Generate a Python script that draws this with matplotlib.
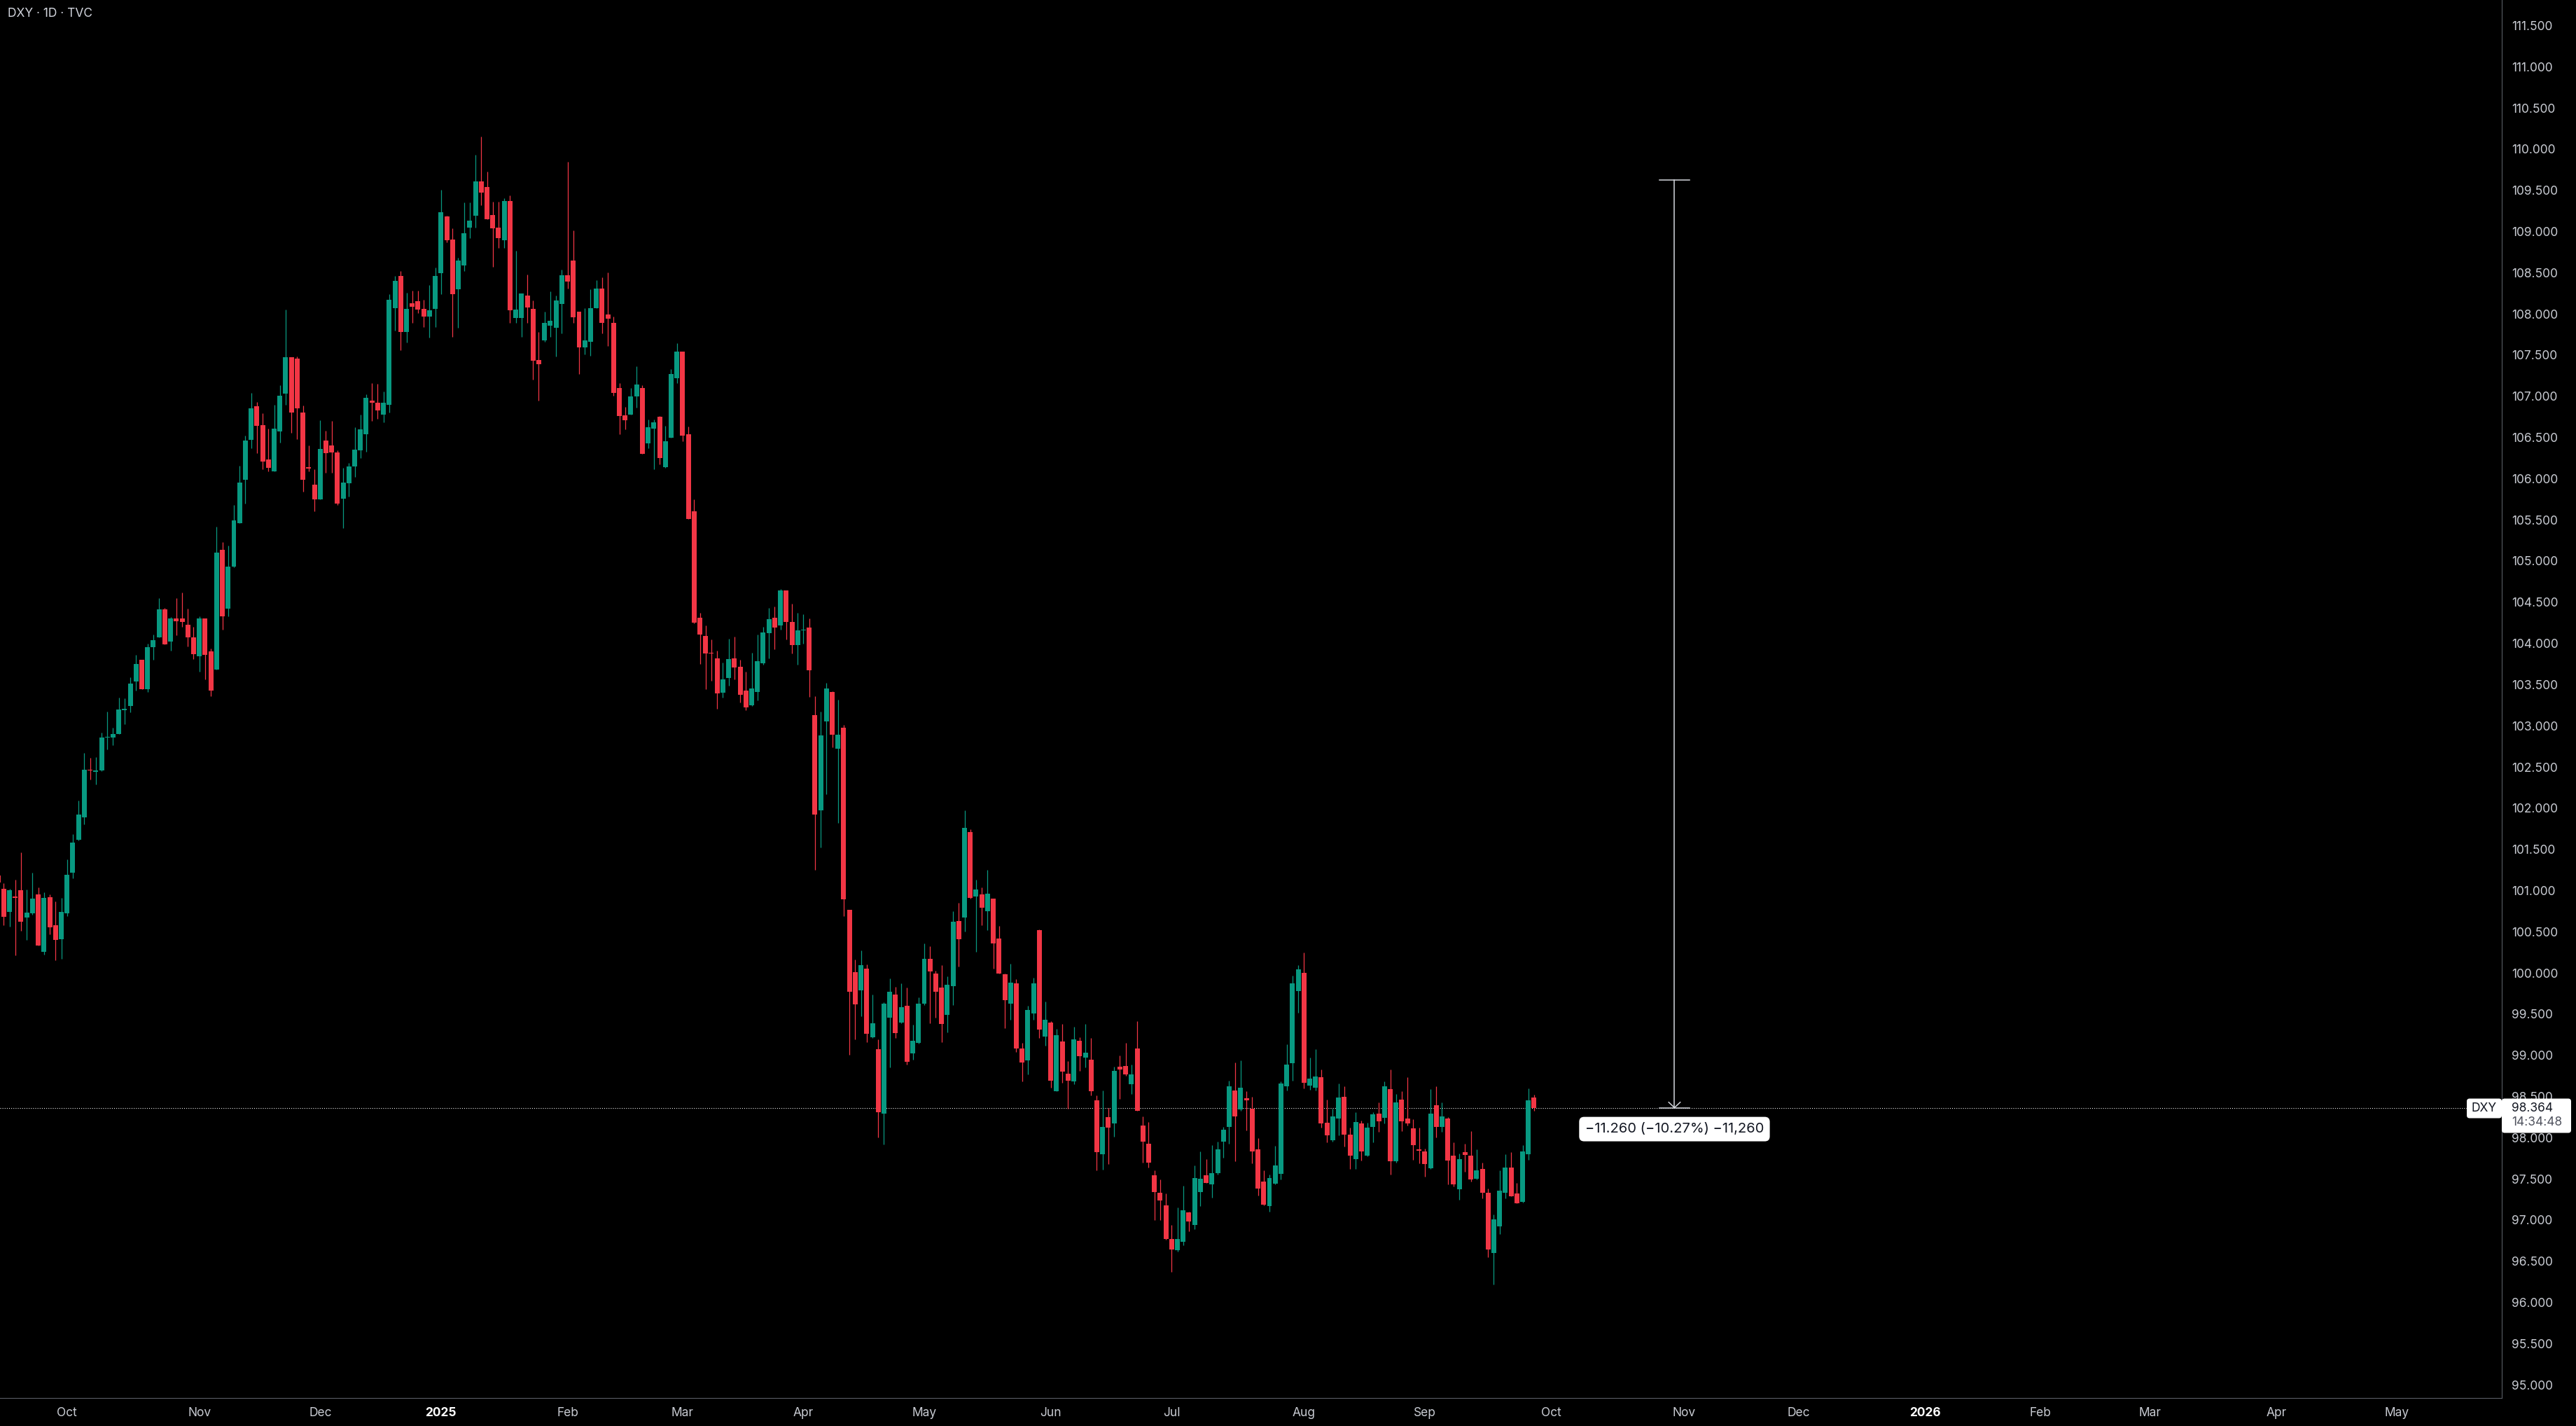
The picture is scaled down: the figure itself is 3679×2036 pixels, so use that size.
import numpy as np
import pandas as pd
import matplotlib
matplotlib.use("Agg")
import matplotlib.pyplot as plt
from matplotlib.patches import FancyBboxPatch

symbol = "DXY · 1D · TVC"
first_day = "2024-09-13"
holidays = ["2024-12-25", "2025-01-01", "2025-04-18", "2025-12-25",
            "2026-01-01", "2026-01-19", "2026-02-16", "2026-04-03"]

opens = [
    101.18, 101.02, 100.74, 100.93, 101.00, 100.67, 100.72, 100.95, 100.26, 100.92,
    100.58, 100.41, 100.72, 101.22, 101.62, 101.89, 102.47, 102.44, 102.46, 102.86,
    102.86, 102.90, 103.19, 103.24, 103.54, 103.80, 103.44, 103.95, 104.07, 104.41,
    104.02, 104.30, 104.30, 104.23, 104.07, 103.84, 104.30, 103.90, 103.68, 105.14,
    104.42, 104.93, 105.46, 105.99, 106.47, 106.88, 106.65, 106.23, 106.09, 106.57,
    107.03, 107.47, 107.46, 106.80, 106.14, 105.93, 105.75, 106.46, 106.40, 106.32,
    105.76, 105.94, 106.15, 106.34, 106.54, 106.95, 106.92, 106.78, 106.90, 108.07,
    108.46, 107.78, 108.13, 108.15, 108.06, 107.97, 108.06, 108.49, 109.18, 108.90,
    108.30, 108.59, 109.05, 109.19, 109.61, 109.54, 109.20, 109.05, 108.89, 109.37,
    107.95, 107.95, 108.22, 108.06, 107.44, 107.68, 107.86, 107.83, 108.12, 108.47,
    108.65, 108.03, 107.59, 107.66, 108.07, 108.31, 107.99, 107.89, 107.10, 106.77,
    106.78, 107.00, 107.10, 106.43, 106.61, 106.75, 106.14, 106.50, 107.22, 107.54,
    106.54, 105.60, 104.31, 104.09, 103.89, 103.82, 103.40, 103.58, 103.82, 103.72,
    103.43, 103.25, 103.41, 103.76, 104.12, 104.31, 104.22, 104.64, 104.26, 103.98,
    104.16, 104.19, 103.13, 101.97, 103.05, 103.41, 102.72, 102.98, 100.77, 100.01,
    99.79, 100.05, 99.22, 99.07, 98.29, 99.46, 99.74, 99.40, 99.60, 99.02,
    99.15, 99.63, 100.17, 99.99, 99.82, 99.49, 99.84, 100.63, 100.67, 101.71,
    100.93, 100.95, 100.75, 100.90, 100.42, 99.98, 99.63, 99.87, 99.08, 98.94,
    99.51, 100.52, 99.23, 99.40, 98.56, 99.17, 98.78, 98.68, 99.18, 98.97,
    98.95, 98.45, 97.80, 98.25, 98.17, 98.86, 98.87, 98.65, 99.08, 98.15,
    97.93, 97.54, 97.33, 97.18, 96.77, 96.63, 96.74, 97.09, 96.94, 97.34,
    97.54, 97.43, 97.57, 97.95, 98.13, 98.57, 98.34, 98.48, 98.35, 97.86,
    97.47, 97.17, 97.44, 97.56, 98.62, 98.90, 99.78, 100.00, 98.63, 98.61,
    98.73, 98.18, 97.97, 98.23, 98.50, 98.04, 97.74, 98.17, 97.78, 98.13,
    98.29, 98.24, 98.59, 97.71, 98.46, 98.23, 98.11, 97.86, 97.83, 97.63,
    98.39, 98.13, 98.23, 97.78, 97.37, 97.82, 97.78, 97.50, 97.62, 97.33,
    96.60, 96.92, 97.33, 97.64, 97.32, 97.22, 97.80, 98.49,
]
highs = [
    101.25, 101.09, 101.02, 101.13, 101.46, 101.01, 101.22, 101.04, 100.98, 100.95,
    100.87, 100.91, 101.38, 101.68, 102.09, 102.67, 102.61, 102.62, 102.92, 103.17,
    102.98, 103.34, 103.33, 103.59, 103.86, 103.80, 104.00, 104.11, 104.55, 104.43,
    104.32, 104.55, 104.62, 104.42, 104.20, 104.33, 104.30, 103.94, 105.42, 105.23,
    105.19, 105.68, 106.16, 106.52, 107.04, 106.93, 106.79, 106.61, 106.90, 107.13,
    108.05, 107.47, 107.48, 106.89, 106.40, 106.11, 106.71, 106.58, 106.70, 106.34,
    106.13, 106.19, 106.62, 106.78, 107.02, 107.16, 107.15, 107.06, 108.24, 108.46,
    108.52, 108.26, 108.28, 108.28, 108.17, 108.35, 108.56, 109.51, 109.19, 109.04,
    108.68, 109.35, 109.35, 109.93, 110.15, 109.73, 109.36, 109.36, 109.40, 109.44,
    108.77, 108.25, 108.48, 108.16, 107.78, 108.03, 108.27, 108.22, 108.54, 109.85,
    109.01, 108.03, 108.07, 108.30, 108.41, 108.44, 108.50, 107.97, 107.16, 106.87,
    107.10, 107.36, 107.13, 106.72, 106.72, 106.76, 106.64, 107.33, 107.64, 107.54,
    106.63, 105.75, 104.37, 104.22, 104.05, 103.91, 103.77, 104.06, 104.08, 103.80,
    103.66, 103.89, 104.11, 104.20, 104.43, 104.45, 104.66, 104.64, 104.48, 104.37,
    104.35, 104.30, 103.36, 103.17, 103.52, 103.42, 103.32, 103.01, 100.77, 100.16,
    100.27, 100.10, 99.74, 99.19, 99.64, 99.93, 99.83, 99.87, 99.82, 99.37,
    99.70, 100.36, 100.32, 100.03, 100.09, 99.96, 100.75, 100.85, 101.97, 101.74,
    101.13, 101.04, 101.25, 100.90, 100.57, 99.99, 100.11, 99.92, 99.15, 99.60,
    99.94, 100.53, 99.65, 99.41, 99.32, 99.38, 98.93, 99.35, 99.22, 99.38,
    99.21, 98.51, 98.57, 98.36, 98.86, 99.00, 99.15, 98.89, 99.41, 98.26,
    98.19, 97.60, 97.49, 97.32, 96.94, 97.15, 97.42, 97.10, 97.66, 97.83,
    97.74, 97.91, 97.95, 98.13, 98.69, 98.91, 98.94, 98.56, 98.50, 97.99,
    97.60, 97.55, 97.90, 98.68, 99.13, 99.97, 100.09, 100.25, 98.97, 99.07,
    98.83, 98.46, 98.35, 98.66, 98.62, 98.12, 98.31, 98.21, 98.18, 98.31,
    98.43, 98.68, 98.83, 98.53, 98.56, 98.73, 98.22, 98.12, 97.87, 98.59,
    98.62, 98.43, 98.25, 97.94, 97.81, 97.93, 98.08, 97.86, 97.70, 97.38,
    97.07, 97.60, 97.80, 97.82, 97.45, 97.91, 98.60, 98.52,
]
lows = [
    101.02, 100.58, 100.56, 100.21, 100.51, 100.40, 100.71, 100.33, 100.22, 100.47,
    100.15, 100.17, 100.69, 101.15, 101.61, 101.80, 102.35, 102.29, 102.45, 102.71,
    102.76, 102.90, 103.02, 103.16, 103.43, 103.44, 103.41, 103.80, 104.07, 103.99,
    103.91, 104.10, 104.20, 103.96, 103.81, 103.66, 103.56, 103.36, 103.68, 104.17,
    104.33, 104.92, 105.46, 105.70, 106.37, 106.31, 106.11, 106.09, 106.09, 106.44,
    106.90, 106.56, 106.48, 105.84, 106.09, 105.60, 105.75, 106.07, 106.07, 105.68,
    105.40, 105.78, 106.02, 106.25, 106.33, 106.70, 106.73, 106.68, 106.80, 107.80,
    107.56, 107.65, 107.89, 108.01, 107.84, 107.71, 107.84, 108.24, 108.87, 107.72,
    107.83, 108.52, 108.92, 109.05, 109.32, 109.15, 108.57, 108.80, 108.80, 107.89,
    107.89, 107.72, 107.89, 107.20, 106.95, 107.66, 107.72, 107.48, 107.76, 108.31,
    107.89, 107.27, 107.51, 107.49, 108.07, 107.76, 107.61, 107.01, 106.54, 106.60,
    106.78, 106.86, 106.30, 106.37, 106.11, 106.17, 106.13, 106.50, 107.16, 106.45,
    105.51, 104.24, 103.75, 103.44, 103.55, 103.21, 103.34, 103.49, 103.56, 103.28,
    103.19, 103.24, 103.31, 103.74, 103.82, 103.93, 104.17, 104.05, 103.88, 103.74,
    104.00, 103.35, 101.25, 101.52, 102.17, 102.74, 101.82, 100.69, 99.01, 99.19,
    99.47, 99.16, 99.21, 98.00, 97.92, 98.85, 99.21, 99.39, 98.89, 98.95,
    99.14, 99.61, 99.39, 99.46, 99.16, 99.28, 99.61, 100.08, 100.50, 100.90,
    100.26, 100.58, 100.52, 100.05, 99.99, 99.33, 99.43, 99.04, 98.68, 98.77,
    99.43, 99.21, 99.12, 98.61, 98.56, 98.67, 98.35, 98.65, 98.81, 98.85,
    98.51, 97.60, 97.61, 97.68, 98.01, 98.47, 98.75, 98.53, 98.33, 97.70,
    97.64, 97.00, 97.00, 96.76, 96.37, 96.62, 96.69, 96.86, 96.89, 97.17,
    97.45, 97.27, 97.55, 97.76, 97.93, 97.71, 98.33, 98.09, 97.69, 97.30,
    97.18, 97.10, 97.43, 97.49, 98.57, 98.69, 99.52, 98.60, 98.58, 98.57,
    98.12, 97.94, 97.95, 98.03, 97.89, 97.62, 97.62, 97.72, 97.77, 97.94,
    98.07, 98.17, 97.55, 97.70, 98.08, 98.15, 97.73, 97.69, 97.53, 97.62,
    98.00, 98.07, 97.43, 97.41, 97.25, 97.59, 97.47, 97.49, 97.26, 96.55,
    96.22, 96.83, 97.26, 97.29, 97.20, 97.21, 97.73, 98.33,
]
closes = [
    101.10, 100.68, 101.00, 100.91, 100.62, 100.73, 100.90, 100.33, 100.91, 100.55,
    100.40, 100.74, 101.19, 101.58, 101.92, 102.47, 102.46, 102.46, 102.86, 102.87,
    102.90, 103.20, 103.21, 103.51, 103.75, 103.44, 103.95, 104.04, 104.41, 103.99,
    104.30, 104.27, 104.26, 104.07, 103.87, 104.30, 103.86, 103.43, 105.10, 104.33,
    104.93, 105.49, 105.95, 106.46, 106.85, 106.64, 106.21, 106.13, 106.61, 107.01,
    107.47, 106.80, 106.85, 105.99, 106.12, 105.75, 106.36, 106.31, 106.32, 105.70,
    105.95, 106.15, 106.35, 106.60, 106.98, 106.92, 106.83, 106.92, 108.17, 108.40,
    107.78, 108.06, 108.09, 108.05, 107.97, 108.04, 108.46, 109.23, 108.89, 108.24,
    108.65, 108.98, 109.13, 109.61, 109.47, 109.15, 109.04, 108.92, 109.37, 108.04,
    108.05, 108.25, 108.08, 107.43, 107.39, 107.89, 107.92, 108.16, 108.47, 108.39,
    107.96, 107.59, 107.68, 108.07, 108.31, 107.89, 107.94, 107.04, 106.76, 106.71,
    107.00, 107.14, 106.30, 106.62, 106.68, 106.25, 106.45, 107.27, 107.54, 106.52,
    105.51, 104.25, 104.11, 103.88, 103.88, 103.39, 103.56, 103.81, 103.71, 103.38,
    103.22, 103.45, 103.78, 104.13, 104.29, 104.19, 104.64, 104.26, 103.98, 104.16,
    104.17, 103.67, 101.92, 102.88, 103.45, 102.89, 102.89, 100.89, 99.77, 99.62,
    100.09, 99.26, 99.39, 98.31, 99.63, 99.77, 99.27, 99.58, 98.92, 99.18,
    99.63, 100.17, 100.02, 99.77, 99.38, 99.86, 100.62, 100.41, 101.76, 100.91,
    101.01, 100.79, 100.96, 100.36, 99.99, 99.67, 99.88, 99.08, 98.91, 99.55,
    99.87, 99.31, 99.43, 98.69, 99.24, 98.80, 98.69, 99.19, 98.99, 99.03,
    98.56, 97.82, 98.13, 98.12, 98.81, 98.83, 98.77, 98.77, 98.33, 97.95,
    97.70, 97.34, 97.24, 96.77, 96.64, 96.77, 97.12, 96.98, 97.51, 97.50,
    97.45, 97.57, 97.86, 98.10, 98.62, 98.26, 98.61, 98.45, 97.83, 97.38,
    97.19, 97.51, 97.66, 98.66, 98.89, 99.87, 100.04, 98.67, 98.72, 98.74,
    98.17, 98.03, 98.26, 98.49, 98.04, 97.78, 98.19, 97.83, 98.12, 98.28,
    98.20, 98.62, 97.71, 98.43, 98.20, 98.17, 97.91, 97.84, 97.68, 98.29,
    98.13, 98.26, 97.72, 97.43, 97.74, 97.79, 97.49, 97.60, 97.33, 96.64,
    97.01, 97.36, 97.64, 97.29, 97.20, 97.83, 98.45, 98.364,
]

last_price = 98.364
countdown = "14:34:48"
measure_from = 109.624
measure_to = 98.364

UP = "#089981"
DOWN = "#F23645"
TEXT = "#c8cbd2"

plt.rcParams["font.family"] = ["Inter", "DejaVu Sans"]

o = np.array(opens)
h = np.array(highs)
l = np.array(lows)
c = np.array(closes)
x = np.arange(len(o))

# trading calendar (bar index <-> date), continues into the future for the time scale
cal = pd.bdate_range(first_day, "2026-06-30")
cal = cal[~cal.isin(pd.to_datetime(holidays))]
idx = pd.Series(np.arange(len(cal)), index=cal)
firsts = idx.groupby([idx.index.year, idx.index.month]).first()

W, H = 3680, 2036
fig = plt.figure(figsize=(W / 100, H / 100), dpi=100, facecolor="black")
ax = fig.add_axes([0, 40 / H, 3573 / W, 1996 / H])
ax.set_facecolor("black")

xlim = (0.35, 435.2)
ax.set_xlim(*xlim)
ax.set_ylim(94.84, 111.81)

colors = np.where(c >= o, UP, DOWN)
ax.vlines(x, l, h, colors=colors, linewidth=0.9, zorder=2)
ax.bar(x, np.maximum(np.abs(c - o), 0.009), bottom=np.minimum(o, c), width=0.85,
       color=colors, linewidth=0, zorder=3)

# last price line
ax.axhline(last_price, color="white", lw=0.75, linestyle=(0, (1, 2)), zorder=1)

# measure drawing
mx = 291.4
lc = "#d6d8de"
ax.plot([mx, mx], [measure_from, measure_to], color=lc, lw=1.1, zorder=4)
ax.plot([mx - 2.6, mx + 2.6], [measure_from, measure_from], color=lc, lw=1.1, zorder=4)
ax.plot([mx - 2.6, mx + 2.6], [measure_to, measure_to], color=lc, lw=1.1, zorder=4)
ax.plot([mx - 1.0, mx, mx + 1.0], [measure_to + 0.066, measure_to, measure_to + 0.066],
        color=lc, lw=1.1, zorder=4)
delta = measure_to - measure_from
pct = delta / measure_from * 100
label = f"{delta:.3f} ({pct:.2f}%) {delta * 1000:,.0f}".replace("-", "\u2212")
ax.text(mx, measure_to - 0.26, label, ha="center", va="center", fontsize=14.5,
        color="#131722", zorder=6,
        bbox=dict(boxstyle="round,pad=0.42,rounding_size=0.35", fc="white", ec="none"))

# axes styling
for s in ["top", "left"]:
    ax.spines[s].set_visible(False)
for s in ["right", "bottom"]:
    ax.spines[s].set_color("#5a5d66")
    ax.spines[s].set_linewidth(0.8)

yt = np.arange(95.0, 111.51, 0.5)
ax.set_yticks(yt)
ax.set_yticklabels([f"{v:.3f}" for v in yt])
ax.yaxis.tick_right()
ax.tick_params(axis="y", length=0, pad=10, labelsize=12.5, labelcolor=TEXT)

tick_pos, tick_lab = [], []
for (yr, mo), pos in firsts.items():
    if xlim[0] <= pos <= xlim[1]:
        tick_pos.append(pos)
        tick_lab.append(str(yr) if mo == 1 else pd.Timestamp(yr, mo, 1).strftime("%b"))
ax.set_xticks(tick_pos)
ax.set_xticklabels(tick_lab)
ax.tick_params(axis="x", length=0, pad=9, labelsize=12.5, labelcolor=TEXT)
for t in ax.get_xticklabels():
    if t.get_text().isdigit():
        t.set_fontweight("bold")
        t.set_color("white")

fig.text(11 / W, 1 - 20 / H, symbol, ha="left", va="center", fontsize=12.5, color="#d1d4dc")

# price tag on the scale
yl = ax.transData.transform((0, last_price))[1]
tag = FancyBboxPatch((3573, yl - 36), 99, 49, boxstyle="round,pad=0,rounding_size=4",
                     transform=None, fc="white", ec="none", zorder=10)
fig.patches.append(tag)
sym = FancyBboxPatch((3523, yl - 15), 50, 28, boxstyle="round,pad=0,rounding_size=4",
                     transform=None, fc="white", ec="none", zorder=10)
fig.patches.append(sym)
fig.text(3587 / W, (yl - 1) / H, f"{last_price:.3f}", ha="left", va="center",
         fontsize=12.5, color="#131722", zorder=12)
fig.text(3587 / W, (yl - 21) / H, countdown, ha="left", va="center",
         fontsize=12.5, color="#50535e", zorder=12)
fig.text(3548 / W, (yl - 1) / H, "DXY", ha="center", va="center",
         fontsize=12.5, color="#131722", zorder=12)

fig.savefig("out.png", dpi=100, facecolor="black")
